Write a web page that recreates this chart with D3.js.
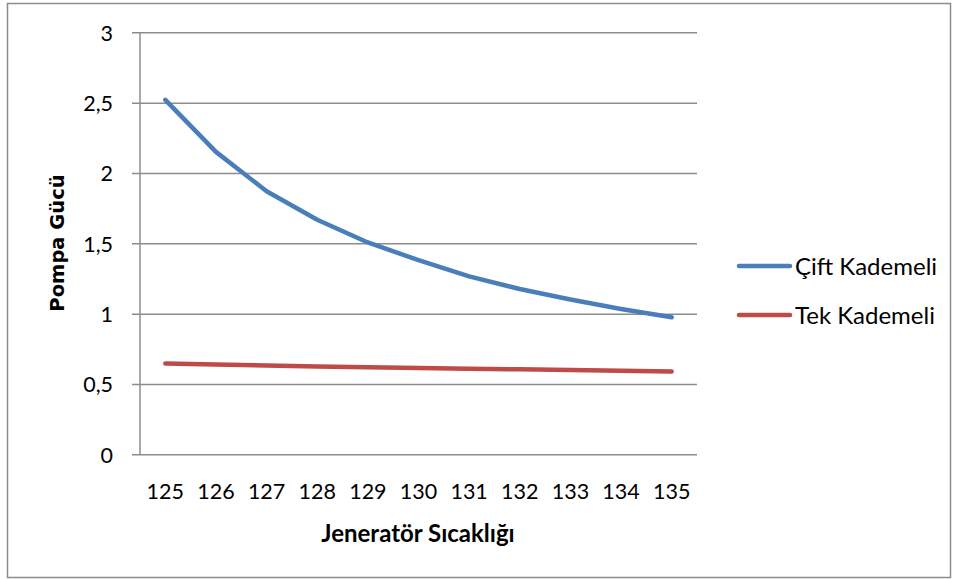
<!DOCTYPE html>
<html>
<head>
<meta charset="utf-8">
<script src="https://cdn.jsdelivr.net/npm/d3@7"></script>
<style>
  body { margin: 0; background: #fff; }
  svg { display: block; font-family: Lato, "Open Sans", sans-serif; }
</style>
</head>
<body>
<svg id="chart" width="957" height="579"></svg>
<script>
// Generator temperature categories
const temperatures = [125, 126, 127, 128, 129, 130, 131, 132, 133, 134, 135];
// Pump power, two-stage system
const ciftKademeli = [2.52, 2.15, 1.87, 1.667, 1.506, 1.38, 1.265, 1.175, 1.10, 1.033, 0.974];
// Pump power, single-stage system
const tekKademeli = [0.645, 0.638, 0.631, 0.624, 0.619, 0.614, 0.609, 0.604, 0.599, 0.594, 0.589];
const yTicks = [0, 0.5, 1, 1.5, 2, 2.5, 3];
const seriesNames = ["Çift Kademeli", "Tek Kademeli"];
const seriesColors = ["#4a7ebb", "#be4b48"];

const svg = d3.select("#chart");

// outer frame
svg.append("rect")
  .attr("x", 7.5).attr("y", 3.5)
  .attr("width", 943).attr("height", 574)
  .attr("fill", "none").attr("stroke", "#8c8c8c").attr("stroke-width", 1.5);

const plotLeft = 140, plotRight = 697, plotTop = 32.3, plotBottom = 454.3;

const x = d3.scaleBand().domain(temperatures).range([plotLeft, plotRight]);
const y = d3.scaleLinear().domain([0, 3]).range([plotBottom, plotTop]);

// gridlines with tick stubs
const yAxis = d3.axisLeft(y)
  .tickValues(yTicks)
  .tickSize(-(plotRight - plotLeft))
  .tickPadding(0)
  .tickFormat(d => d3.format("")(d).replace(".", ","));

const gy = svg.append("g").attr("transform", `translate(${plotLeft},0)`).call(yAxis);
gy.select(".domain").remove();
gy.selectAll(".tick line")
  .attr("x1", -8)
  .attr("stroke", "#8c8c8c").attr("stroke-width", 1.5);
gy.selectAll(".tick text")
  .attr("x", -27)
  .attr("dy", "0.36em")
  .attr("font-size", 21.5)
  .attr("fill", "#000")
  .attr("font-family", "Lato, sans-serif");

// vertical axis line
svg.append("line")
  .attr("x1", plotLeft).attr("x2", plotLeft)
  .attr("y1", plotTop).attr("y2", plotBottom)
  .attr("stroke", "#8c8c8c").attr("stroke-width", 1.5);

// category labels
const xAxis = d3.axisBottom(x).tickSize(0).tickPadding(0);
const gx = svg.append("g").attr("transform", `translate(0,${plotBottom})`).call(xAxis);
gx.select(".domain").remove();
gx.selectAll(".tick text")
  .attr("y", 45)
  .attr("dy", 0)
  .attr("font-size", 21.5)
  .attr("fill", "#000")
  .attr("font-family", "Lato, sans-serif");

// series lines
const line = d3.line()
  .x((d, i) => x(temperatures[i]) + x.bandwidth() / 2)
  .y(d => y(d));

[ciftKademeli, tekKademeli].forEach((vals, i) => {
  svg.append("path")
    .datum(vals)
    .attr("d", line)
    .attr("fill", "none")
    .attr("stroke", seriesColors[i])
    .attr("stroke-width", 4.5)
    .attr("stroke-linecap", "round")
    .attr("stroke-linejoin", "round");
});

// axis titles
svg.append("text")
  .attr("x", 418).attr("y", 542)
  .attr("text-anchor", "middle")
  .attr("font-size", 24).attr("font-weight", "bold")
  .text("Jeneratör Sıcaklığı");

svg.append("text")
  .attr("transform", "translate(64,243) rotate(-90)")
  .attr("text-anchor", "middle")
  .attr("font-family", "'DejaVu Sans', sans-serif")
  .attr("font-size", 19.5).attr("font-weight", "bold")
  .text("Pompa Gücü");

// legend
const legend = svg.append("g");
seriesNames.forEach((name, i) => {
  const ly = 266 + i * 49;
  legend.append("line")
    .attr("x1", 739).attr("x2", 790)
    .attr("y1", ly).attr("y2", ly)
    .attr("stroke", seriesColors[i])
    .attr("stroke-width", 4.5)
    .attr("stroke-linecap", "round");
  legend.append("text")
    .attr("x", 795).attr("y", ly + 8.5)
    .attr("font-size", 24)
    .text(name);
});
</script>
</body>
</html>
